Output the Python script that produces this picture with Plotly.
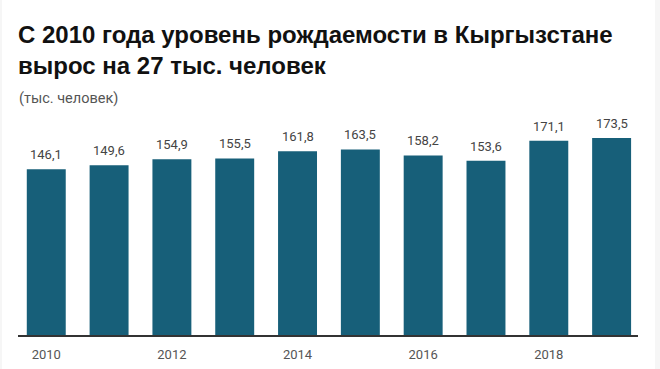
import plotly.graph_objects as go

years = [2010, 2011, 2012, 2013, 2014, 2015, 2016, 2017, 2018, 2019]
births = [146.1, 149.6, 154.9, 155.5, 161.8, 163.5, 158.2, 153.6, 171.1, 173.5]
tick_years = [2010, 2012, 2014, 2016, 2018]
title_text = "С 2010 года уровень рождаемости в Кыргызстане<br>вырос на 27 тыс. человек"
subtitle_text = "(тыс. человек)"

W, H = 660, 369
L, R, T, B = 18, 22, 110, 34
pw = W - L - R

fig = go.Figure()
fig.add_trace(go.Bar(
    x=years, y=births, width=0.62,
    marker=dict(color="#175f79", line=dict(width=0)),
    hoverinfo="skip",
))

for xv, yv in zip(years, births):
    fig.add_annotation(
        x=xv, y=yv, text=f"{yv:.1f}".replace(".", ","),
        showarrow=False, yanchor="bottom", yshift=5,
        font=dict(family="Roboto", size=13, color="#444444"),
    )

fig.add_annotation(
    xref="paper", yref="paper", x=0, y=1, xanchor="left", yanchor="bottom",
    xshift=-1, yshift=1, text=subtitle_text, showarrow=False,
    font=dict(family="Roboto", size=14.5, color="#555555"),
)

# light side strips of the frame
fig.add_shape(type="rect", xref="paper", yref="paper",
              x0=(655 - L) / pw, x1=(W - L) / pw + 0.01, y0=-0.2, y1=1.6,
              fillcolor="#f6f6f6", line=dict(width=0), layer="below")
fig.add_shape(type="rect", xref="paper", yref="paper",
              x0=(-L - 1) / pw, x1=(2 - L) / pw, y0=-0.2, y1=1.6,
              fillcolor="#f6f6f6", line=dict(width=0), layer="below")

fig.update_layout(
    width=W, height=H,
    margin=dict(l=L, r=R, t=T, b=B, pad=0, autoexpand=False),
    paper_bgcolor="white", plot_bgcolor="white",
    showlegend=False,
    title=dict(text=title_text, x=0, xref="paper", xanchor="left",
               y=1 - 43 / H, yref="container", yanchor="top",
               font=dict(family="Liberation Sans", size=24, color="#111111", weight="bold")),
    xaxis=dict(range=[2009.55, 2019.42], tickmode="array", tickvals=tick_years,
               ticktext=[str(v) for v in tick_years], showgrid=False, zeroline=False,
               showline=True, linecolor="#333333", linewidth=1.5, automargin=False,
               ticks="outside", ticklen=7, tickcolor="rgba(0,0,0,0)",
               tickfont=dict(family="Roboto", size=13, color="#555555")),
    yaxis=dict(range=[0, 198.2], visible=False, showgrid=False, zeroline=False,
               automargin=False),
)

fig.write_html(
    "out.html",
    config={"displayModeBar": False},
    post_script="document.body.style.margin='0';document.body.style.padding='0';",
)
